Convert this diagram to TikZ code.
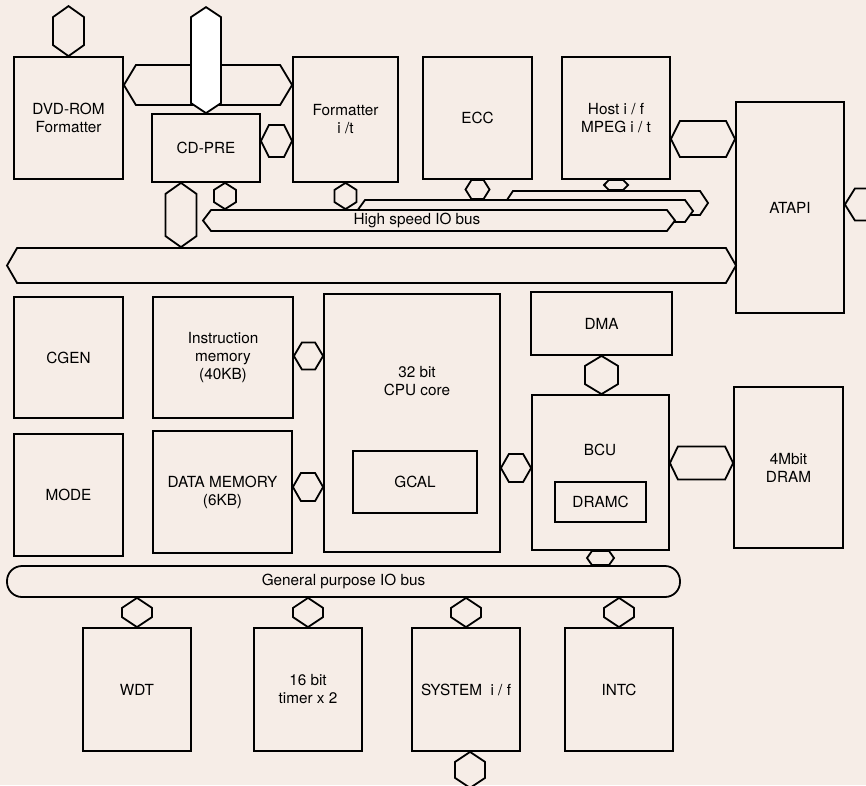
\documentclass[tikz,border=0pt]{standalone}
\usepackage{fontspec}
\setmainfont{TeX Gyre Heros}
\usepackage{tikz}
\usetikzlibrary{shapes.symbols, calc, positioning}
\definecolor{paper}{HTML}{F6EDE7}
\tikzset{
  blk/.style={draw, line width=1.8pt, fill=paper, inner sep=2pt, align=center,
              font=\fontsize{15.3}{18}\selectfont},
  txt/.style={align=center, font=\fontsize{15.3}{18}\selectfont},
  bus/.style={signal, signal to=west and east, draw, line width=1.8pt, fill=paper, inner sep=0pt},
  link/.style={draw, line width=1.8pt, fill=paper},
}
% horizontal link: from, target anchor, half height, tip
\newcommand{\hlink}[5][]{%
  \path #2 coordinate (hA);
  \path (#3 |- hA) coordinate (hB);
  \draw[link,#1] (hA) -- ($(hA)+(#5,-#4)$) -- ($(hB)+(-#5,-#4)$) -- (hB)
    -- ($(hB)+(-#5,#4)$) -- ($(hA)+(#5,#4)$) -- cycle;}
% vertical link: from, target anchor, half width, tip
\newcommand{\vlink}[5][]{%
  \path #2 coordinate (vA);
  \path (vA |- #3) coordinate (vB);
  \draw[link,#1] (vA) -- ($(vA)+(#4,#5)$) -- ($(vB)+(#4,-#5)$) -- (vB)
    -- ($(vB)+(-#4,-#5)$) -- ($(vA)+(-#4,#5)$) -- cycle;}
% flat link: flat top and bottom, pointed sides
\newcommand{\flink}[5][]{%
  \path #2 coordinate (vA);
  \path (vA |- #3) coordinate (vB);
  \draw[link,#1] ($(vA)+(-#4+#5,0)$) -- ($(vA)+(#4-#5,0)$) -- ($(vA)!0.5!(vB)+(#4,0)$)
    -- ($(vB)+(#4-#5,0)$) -- ($(vB)+(-#4+#5,0)$) -- ($(vA)!0.5!(vB)+(-#4,0)$) -- cycle;}

\begin{document}
\begin{tikzpicture}[x=1pt, y=-1pt]
  \useasboundingbox[fill=paper] (0,0) rectangle (866,785);
  \clip (0,0) rectangle (866,785);
  % top row
  \node[blk, minimum width=109, minimum height=122] (dvd) at (68.5,118) {DVD-ROM\\Formatter};
  \node[blk, minimum width=108, minimum height=68] (cdpre) at (206,148) {CD-PRE};
  \node[blk, minimum width=105, minimum height=125] (fmt) at (345.5,119.5) {Formatter\\i /t};
  \node[blk, minimum width=109, minimum height=122] (ecc) at (477.5,118) {ECC};
  \node[blk, minimum width=108, minimum height=122] (host) at (616,118) {Host i / f\\MPEG i / t};
  \node[blk, minimum width=108, minimum height=211] (atapi) at (790,207.5) {ATAPI};
  % high speed buses
  \node[bus, signal pointer angle=113, minimum width=203, minimum height=24] (hsb3) at (606.5,203) {};
  \node[bus, signal pointer angle=108, minimum width=336, minimum height=22] (hsb2) at (525,211) {};
  \node[bus, signal pointer angle=105, minimum width=472, minimum height=21] (hsb1) at (439,220.5) {};
  \node[txt] (hslbl) at (417,220) {High speed IO bus};
  \node[bus, signal pointer angle=120, minimum width=729, minimum height=35] (cbus) at (371.5,265.5) {};
  % middle
  \node[blk, minimum width=109, minimum height=121] (cgen) at (68.5,357.5) {CGEN};
  \node[blk, minimum width=140, minimum height=121] (imem) at (223,357.5) {Instruction\\memory\\(40KB)};
  \node[blk, minimum width=109, minimum height=122] (mode) at (68.5,495) {MODE};
  \node[blk, minimum width=139, minimum height=122] (dmem) at (222.5,492) {DATA MEMORY\\(6KB)};
  \node[blk, minimum width=176, minimum height=258] (cpu) at (412,423) {};
  \node[txt] (cputxt) at (417,381) {32 bit\\CPU core};
  \node[blk, minimum width=124, minimum height=62] (gcal) at (415,482) {GCAL};
  \node[blk, minimum width=141, minimum height=63] (dma) at (601.5,323.5) {DMA};
  \node[blk, minimum width=137, minimum height=155] (bcu) at (600.5,472.5) {};
  \node[txt] (bcutxt) at (600,450) {BCU};
  \node[blk, minimum width=91, minimum height=40] (dramc) at (600.5,502) {DRAMC};
  \node[blk, minimum width=109, minimum height=161] (dram) at (788.5,467.5) {4Mbit\\DRAM};
  \node[blk, rounded corners=15, minimum width=673, minimum height=31] (gbus) at (343.5,581.5) {General purpose IO bus};
  % links
  \coordinate (dvdtop) at ($(dvd.north)+(0,-50)$);
  \vlink{(dvdtop)}{dvd.north}{15.5}{11}
  \hlink{($(dvd.east)+(0,-33)$)}{fmt.west}{20}{12}
  \coordinate (cdtop) at ($(cdpre.north)+(0,-106)$);
  \vlink[fill=white]{(cdtop)}{cdpre.north}{15}{10}
  \hlink{($(cdpre.east)+(0,-7)$)}{fmt.west}{16}{8}
  \vlink{($(cdpre.south)+(19,0)$)}{hsb1.north}{11}{7}
  \vlink{($(cdpre.south)+(-25,0)$)}{cbus.north}{15.5}{11}
  \vlink{(fmt.south)}{hsb1.north}{11}{7}
  \flink{(ecc.south)}{hsb2.north}{12}{6}
  \flink{(host.south)}{hsb3.north}{12}{5}
  \hlink{($(host.east)+(0,21)$)}{atapi.west}{18}{9}
  \coordinate (atapiout) at ($(atapi.east)+(40,-3)$);
  \hlink{($(atapi.east)+(0,-3)$)}{atapiout}{16}{10}
  \hlink{($(imem.east)+(0,-1.5)$)}{cpu.west}{13.5}{8}
  \hlink{($(dmem.east)+(0,-5)$)}{cpu.west}{14}{8}
  \hlink{($(cpu.east)+(0,45)$)}{bcu.west}{14}{8}
  \vlink{(dma.south)}{bcu.north}{16.5}{10}
  \hlink{($(bcu.east)+(0,-9.5)$)}{dram.west}{16.5}{8}
  \flink{(bcu.south)}{gbus.north}{13.5}{5}
  % bottom row
  \foreach \nm/\cx/\lbl in {wdt/137/WDT, tmr/308/{16 bit\\timer x 2}, sysif/466/{SYSTEM~~i / f}, intc/619/INTC}
    { \node[blk, minimum width=108, minimum height=123] (\nm) at (\cx,689.5) {\lbl};
      \vlink{(\nm.north |- gbus.south)}{\nm.north}{15}{10} }
  \coordinate (sysout) at ($(sysif.south)+(4,36)$);
  \vlink{($(sysif.south)+(4,0)$)}{sysout}{15}{10}
\end{tikzpicture}
\end{document}
